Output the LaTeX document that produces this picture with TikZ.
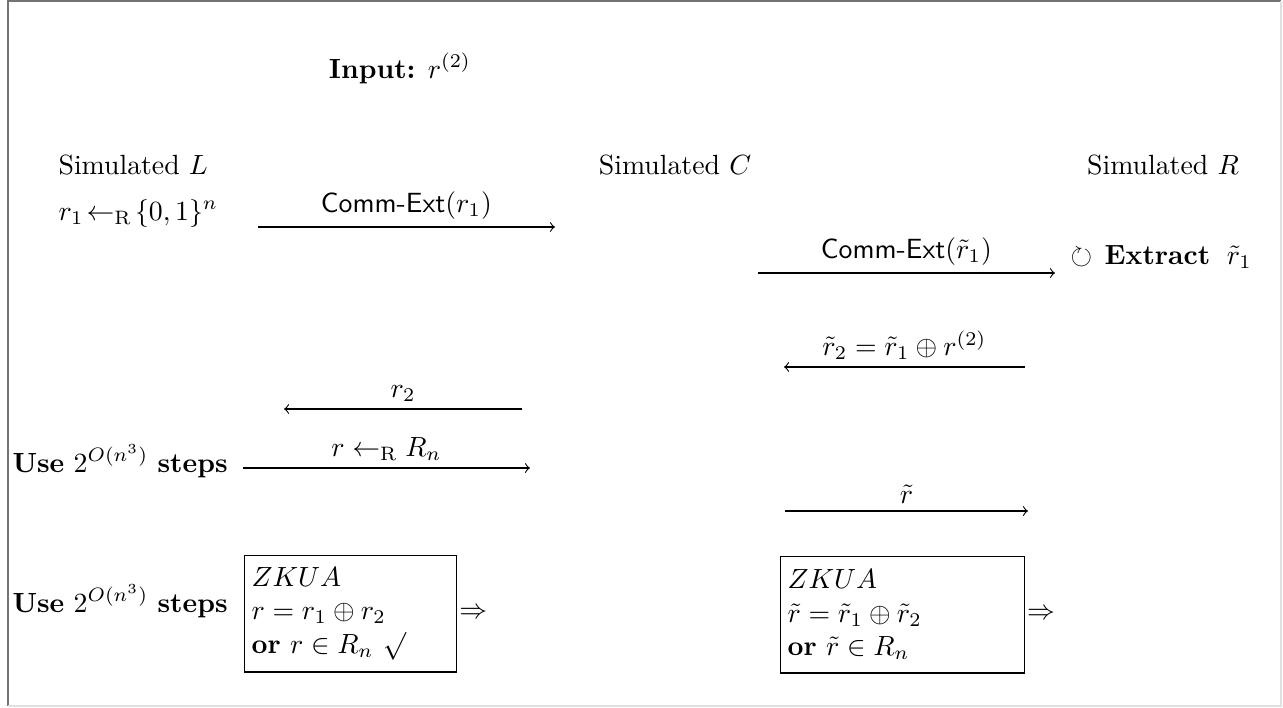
\documentclass[tikz,border=0pt]{standalone}
\usepackage{amsmath,amssymb}
\begin{document}
\begin{tikzpicture}[x=0.36pt,y=-0.36pt,
  msg/.style={->, line width=0.4pt},
  lbl/.style={above, inner sep=2.5pt},
  txt/.style={inner sep=0pt, anchor=base west},
  ctxt/.style={inner sep=0pt, anchor=base},
  zbox/.style={draw, line width=0.5pt, anchor=north west, align=left, inner sep=2.5pt, minimum height=41.8pt}
]
\useasboundingbox (0,0) rectangle (1283,708);
\draw[black!55, line width=0.7pt] (8,706) -- (8,1) -- (1281,1);
\draw[black!12, line width=0.7pt] (1281,1) -- (1281,706) -- (8,706);

\node[ctxt] (input) at (400,78) {\textbf{Input:} $r^{(2)}$};
\node[txt] (simL) at (58,174) {Simulated $L$};
\node[ctxt] (simC) at (675,174) {Simulated $C$};
\node[ctxt] (simR) at (1163,174) {Simulated $R$};
\node[txt] (r1) at (58,220) {$r_1\!\leftarrow_{\mathrm{R}}\!\{0,1\}^n$};

\coordinate (a1s) at (258,227); \coordinate (a1e) at (555,227);
\draw[msg] (a1s) -- node[lbl] (l1) {\textsf{Comm-Ext}$(r_1)$} (a1e);

\coordinate (a2s) at (758,273); \coordinate (a2e) at (1055,273);
\draw[msg] (a2s) -- node[lbl] (l2) {\textsf{Comm-Ext}$(\tilde r_1)$} (a2e);
\node[txt] (ext) at (1070,264) {$\circlearrowright$\hspace{4.5pt}\textbf{Extract}\hspace{6pt}$\tilde r_1$};

\coordinate (a3s) at (1025,367); \coordinate (a3e) at (784,367);
\draw[msg] (a3s) -- node[lbl] (l3) {$\tilde r_2=\tilde r_1\oplus r^{(2)}$} (a3e);

\coordinate (a4s) at (522,409); \coordinate (a4e) at (284,409);
\draw[msg] (a4s) -- node[lbl] (l4) {$r_2$} (a4e);

\node[txt] (use1) at (12,472) {\textbf{Use} $2^{O(n^3)}$ \textbf{steps}};
\coordinate (a5s) at (243,468); \coordinate (a5e) at (530,468);
\draw[msg] (a5s) -- node[lbl] (l5) {$r\leftarrow_{\mathrm{R}}R_n$} (a5e);

\coordinate (a6s) at (785,511); \coordinate (a6e) at (1028,511);
\draw[msg] (a6s) -- node[lbl] (l6) {$\tilde r$} (a6e);

\node[txt] (use2) at (12,612) {\textbf{Use} $2^{O(n^3)}$ \textbf{steps}};
\node[zbox, text width=71.3pt] (box1) at (244,555) {$ZKUA$\\ $r=r_1\oplus r_2$\\ \textbf{or} $r\in R_n$ $\surd$};
\node[anchor=west, inner sep=0.5pt] (imp1) at (box1.east) {$\Rightarrow$};
\node[zbox, text width=82.8pt] (box2) at (780,556) {$ZKUA$\\ $\tilde r=\tilde r_1\oplus\tilde r_2$\\ \textbf{or} $\tilde r\in R_n$};
\node[anchor=west, inner sep=0.5pt] (imp2) at (box2.east) {$\Rightarrow$};
\end{tikzpicture}
\end{document}
